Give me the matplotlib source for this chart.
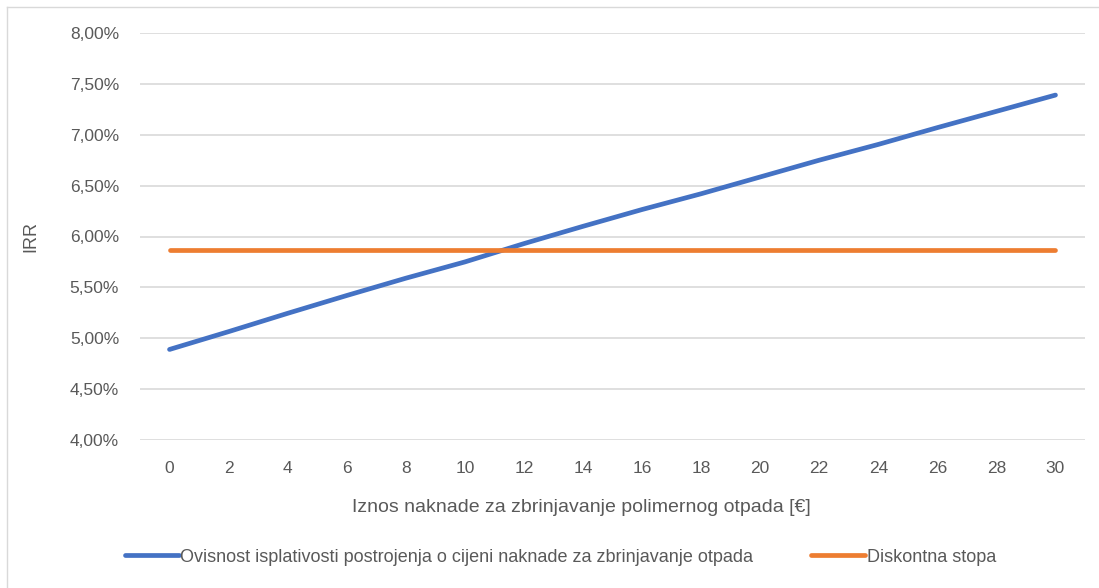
import matplotlib.pyplot as plt
from matplotlib.ticker import FuncFormatter, MultipleLocator
from matplotlib.lines import Line2D

plt.rcParams['font.family'] = ['Liberation Sans', 'DejaVu Sans']

# podaci
naknada = [0, 2, 4, 6, 8, 10, 12, 14, 16, 18, 20, 22, 24, 26, 28, 30]
irr = [4.89, 5.065, 5.245, 5.42, 5.59, 5.75, 5.93, 6.10, 6.265, 6.42,
       6.585, 6.75, 6.905, 7.07, 7.23, 7.39]
diskontna = [5.87] * len(naknada)

naziv_irr = "Ovisnost isplativosti postrojenja o cijeni naknade za zbrinjavanje otpada"
naziv_disk = "Diskontna stopa"

siva = "#595959"

fig = plt.figure(figsize=(10.99, 5.88), dpi=100)
ax = fig.add_axes([140 / 1099, 1 - 440 / 588, (1085 - 140) / 1099, (440 - 33) / 588])

ax.plot(naknada, irr, color="#4472C4", lw=3.4, solid_capstyle="round", label=naziv_irr, zorder=3)
ax.plot(naknada, diskontna, color="#ED7D31", lw=3.4, solid_capstyle="round", label=naziv_disk, zorder=3)

ax.set_xlim(-1, 31)
ax.set_ylim(4.0, 8.0)
ax.xaxis.set_major_locator(MultipleLocator(2))
ax.yaxis.set_major_locator(MultipleLocator(0.5))
ax.yaxis.set_major_formatter(FuncFormatter(lambda v, p: f"{v:.2f}%".replace(".", ",")))

ax.grid(axis="y", color="#d9d9d9", lw=1.2, zorder=0)
for s in ax.spines.values():
    s.set_visible(False)
ax.tick_params(axis="both", length=0, labelsize=12.5, colors=siva)
ax.tick_params(axis="y", pad=15)
ax.tick_params(axis="x", pad=15)

ax.set_ylabel("IRR", fontsize=13, color=siva, labelpad=22)
ax.set_xlabel("Iznos naknade za zbrinjavanje polimernog otpada [€]", fontsize=14, color=siva, labelpad=17)
ax.xaxis.set_label_coords(0.467, -0.145)

fig.legend(loc="center", bbox_to_anchor=(0.51, 1 - 557 / 588), ncol=2, frameon=False,
           fontsize=13, labelcolor=siva, handlelength=3.0, handletextpad=0.1, columnspacing=3.2)

# okvir grafikona
fig.add_artist(Line2D([7 / 1099, 7 / 1099], [0, 1 - 7 / 588], color="#d9d9d9", lw=1))
fig.add_artist(Line2D([7 / 1099, 1], [1 - 7 / 588, 1 - 7 / 588], color="#d9d9d9", lw=1))

fig.savefig("out.png", dpi=100)
